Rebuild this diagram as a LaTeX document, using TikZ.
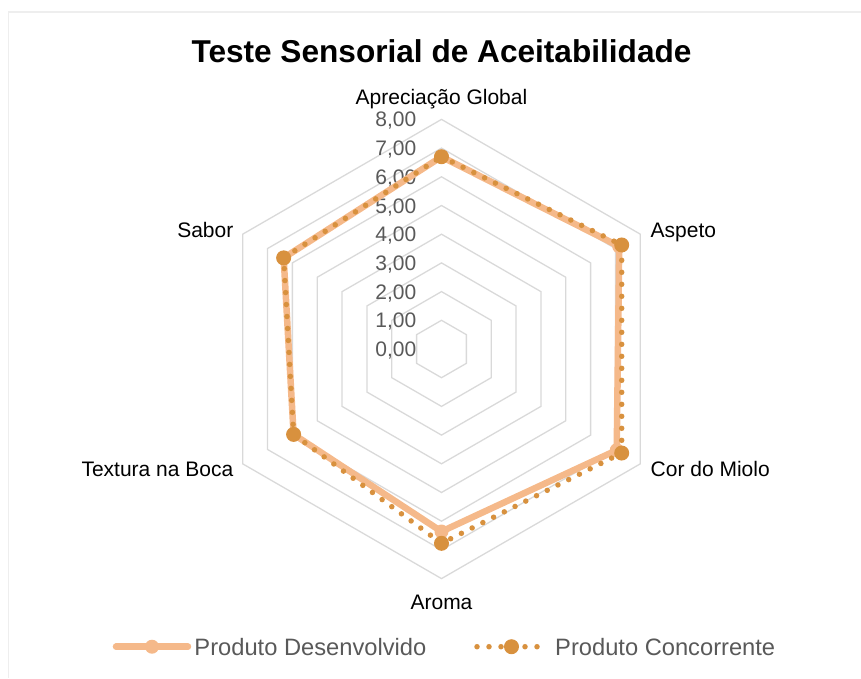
\documentclass[tikz,border=0pt]{standalone}
\usepackage{fontspec}
\setmainfont{Liberation Sans}
\usepackage{tikz}
\usetikzlibrary{calc}
\definecolor{grade}{HTML}{D9D9D9}
\definecolor{texto}{HTML}{595959}
\definecolor{claro}{HTML}{F5B98A}
\definecolor{escuro}{HTML}{D8913E}
\definecolor{moldura}{HTML}{EEEEEE}

\begin{document}
\begin{tikzpicture}[x=1pt,y=1pt,
  rotulo/.style={font=\fontsize{21}{25}\selectfont, inner sep=0pt, text height=15pt, text depth=0pt},
  valor/.style={rotulo, text=texto, anchor=east},
  legenda/.style={font=\fontsize{23.7}{28}\selectfont, text=texto, inner sep=0pt, anchor=west, text height=17pt, text depth=0pt},
  linhaclara/.style={claro, line width=6.5pt, line join=round, line cap=round},
  linhaescura/.style={escuro, line width=5.5pt, line cap=round, dash pattern=on 0pt off 12pt}]
  \useasboundingbox (-441.5,-329) rectangle (419.5,349);

  % Moldura
  \draw[moldura, line width=1.5pt] (419.5,337) -- (-432.8,337) -- (-432.8,-329);

  % Titulo
  \node[font=\fontsize{31.6}{38}\selectfont\bfseries, inner sep=0pt] (titulo) at (0,297.3) {Teste Sensorial de Aceitabilidade};

  % Grade hexagonal
  \foreach \r in {1,...,8}
    \draw[grade, line width=1.3pt] (90:\r*28.7) -- (30:\r*28.7) -- (-30:\r*28.7) -- (-90:\r*28.7) -- (210:\r*28.7) -- (150:\r*28.7) -- cycle;

  % Marcas do eixo
  \foreach \r in {0,...,8}
    \node[valor] (v\r) at (-25,\r*28.7) {\r,00};

  % Dados: angulo / desenvolvido / concorrente
  \foreach \a/\d/\c [count=\i] in {90/6.70/6.70, 30/7.15/7.25, -30/7.05/7.25, -90/6.36/6.77, 210/5.95/5.95, 150/6.35/6.35} {
    \coordinate (d\i) at (\a:\d*28.7);
    \coordinate (c\i) at (\a:\c*28.7);
  }

  % Produto Desenvolvido
  \draw[linhaclara] (d1) -- (d2) -- (d3) -- (d4) -- (d5) -- (d6) -- cycle;
  \foreach \i in {1,...,6}
    \fill[claro] (d\i) circle (7pt);

  % Produto Concorrente
  \draw[linhaescura] (c1) -- (c2) -- (c3) -- (c4) -- (c5) -- (c6) -- cycle;
  \foreach \i in {1,...,6}
    \fill[escuro] (c\i) circle (7.5pt);

  % Categorias
  \node[rotulo] (apreciacao) at (0,252) {Apreciação Global};
  \node[rotulo, anchor=west] (aspeto) at (209,119) {Aspeto};
  \node[rotulo, anchor=west] (cor) at (209,-120) {Cor do Miolo};
  \node[rotulo] (aroma) at (0,-252.7) {Aroma};
  \node[rotulo, anchor=east] (textura) at (-208,-120) {Textura na Boca};
  \node[rotulo, anchor=east] (sabor) at (-208,119) {Sabor};

  % Legenda
  \coordinate (l1a) at (-325.5,-297.7);
  \coordinate (l1b) at (-253.5,-297.7);
  \draw[linhaclara] (l1a) -- (l1b);
  \fill[claro] ($(l1a)!0.5!(l1b)$) circle (7pt);
  \node[legenda] (desenv) at (-247.2,-297.7) {Produto Desenvolvido};

  \coordinate (l2a) at (35.5,-297.7);
  \coordinate (l2b) at (104.5,-297.7);
  \draw[linhaescura] (l2a) -- (l2b);
  \fill[escuro] ($(l2a)!0.5!(l2b)$) circle (7.5pt);
  \node[legenda] (concor) at (113.5,-297.7) {Produto Concorrente};
\end{tikzpicture}
\end{document}
